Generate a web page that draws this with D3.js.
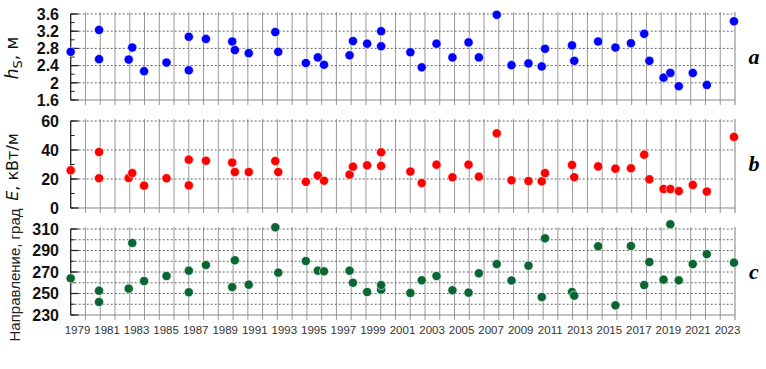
<!DOCTYPE html>
<html><head><meta charset="utf-8">
<script src="https://cdn.jsdelivr.net/npm/d3@7"></script>
<style>body{margin:0;background:#fff}svg{display:block}</style>
</head><body><svg id="c" width="766" height="369"></svg>
<script>
// decimal-year positions of the observations
const dates = [1979.0,1980.92,1980.92,1982.93,1983.17,1983.97,1985.49,1987.0,1987.0,1988.16,
  1989.94,1990.12,1991.06,1992.86,1993.06,1994.93,1995.74,1996.16,1997.89,1998.12,
  1999.08,2000.03,2000.03,2002.01,2002.78,2003.78,2004.86,2005.95,2006.65,2007.86,
  2008.86,2010.01,2010.91,2011.13,2012.96,2013.11,2014.73,2015.9,2016.95,2017.85,
  2018.2,2019.16,2019.62,2020.19,2021.14,2022.09,2023.93];
// significant wave height, m
const hs = [2.72,3.23,2.55,2.54,2.82,2.27,2.47,2.29,3.07,3.02,
  2.96,2.76,2.69,3.18,2.72,2.46,2.59,2.42,2.64,2.97,
  2.91,3.20,2.85,2.71,2.36,2.91,2.59,2.94,2.59,3.58,
  2.41,2.45,2.38,2.79,2.87,2.51,2.96,2.82,2.92,3.14,
  2.51,2.12,2.23,1.92,2.23,1.95,3.43];
// wave energy flux, kW/m
const energy = [26.0,38.6,20.5,20.7,24.1,15.4,20.5,15.6,33.3,32.6,
  31.3,24.8,24.8,32.4,24.8,18.1,22.3,18.8,23.0,28.5,
  29.4,38.4,29.0,25.1,17.2,29.9,21.2,29.9,21.6,51.5,
  19.1,18.6,18.4,24.1,29.7,21.2,28.7,27.1,27.4,36.8,
  19.8,13.1,13.1,11.7,15.9,11.3,49.0];
// direction, degrees
const direction = [264.1,252.6,242.1,254.5,297.0,261.6,266.3,251.1,271.2,276.5,
  256.0,280.9,258.2,311.6,269.4,280.2,271.2,270.6,271.2,260.0,
  251.4,253.6,257.9,250.5,262.3,266.3,253.0,250.8,268.8,277.4,
  262.1,275.9,246.7,301.3,251.4,248.0,293.9,239.0,294.2,257.9,
  279.3,262.9,314.4,262.3,277.4,286.7,278.7];
const yearLabels = d3.range(1979, 2024, 2);
const hsTicks = [1.6, 2, 2.4, 2.8, 3.2, 3.6];
const eTicks = [0, 20, 40, 60];
const dirTicks = [230, 250, 270, 290, 310];

const svg = d3.select("#c");
const x = d3.scaleLinear().domain([1979, 2024]).range([70.7, 735]);
const xLab = d3.scaleLinear().domain([1979.5, 2023.5]).range([77.5, 727.5]);

const panels = [
  {vals: hs, dom: [1.6, 3.6], range: [100, 14], ticks: hsTicks, minor: 0.2, grid: [2, 2.4, 2.8, 3.2, 3.6],
   color: "#0000ff", fmt: d => String(d), letter: "a", ly: 64},
  {vals: energy, dom: [0, 60], range: [208, 121], ticks: eTicks, minor: 10, grid: [20, 40, 60],
   color: "#ff0000", fmt: d => String(d), letter: "b", ly: 171},
  {vals: direction, dom: [230, 310], range: [315, 229], ticks: dirTicks, minor: 10, grid: d3.range(240, 311, 10),
   color: "#0b6633", fmt: d => String(d), letter: "c", ly: 279}
];

panels.forEach(p => {
  const y = d3.scaleLinear().domain(p.dom).range(p.range);
  const g = svg.append("g");
  const top = p.range[1], bot = p.range[0];
  g.selectAll(".vg").data(d3.range(1980, 2024)).join("line")
    .attr("x1", d => x(d)).attr("x2", d => x(d))
    .attr("y1", top - 2).attr("y2", bot + 5)
    .attr("stroke", "#999").attr("stroke-width", 1);
  g.append("line").attr("x1", x(2024)).attr("x2", x(2024)).attr("y1", top - 2).attr("y2", bot + 5)
    .attr("stroke", "#aaa").attr("stroke-width", 1.5);
  g.selectAll(".hg").data(p.grid).join("line")
    .attr("x1", x(1979)).attr("x2", x(2024))
    .attr("y1", d => y(d)).attr("y2", d => y(d))
    .attr("stroke", "#666").attr("stroke-dasharray", "2,2").attr("stroke-width", 1);
  g.append("line").attr("x1", x(1979)).attr("x2", x(2024)).attr("y1", bot).attr("y2", bot)
    .attr("stroke", "#888").attr("stroke-width", 1.2);
  g.append("line").attr("x1", x(1979)).attr("x2", x(1979)).attr("y1", top).attr("y2", bot)
    .attr("stroke", "#222").attr("stroke-width", 1.3);
  const minorTicks = d3.range(p.dom[0], p.dom[1] + 1e-9, p.minor);
  g.selectAll(".mt").data(minorTicks).join("line")
    .attr("x1", x(1979)).attr("x2", x(1979) + 4)
    .attr("y1", d => y(d)).attr("y2", d => y(d))
    .attr("stroke", "#222").attr("stroke-width", 1);
  g.selectAll(".Mt").data(p.ticks).join("line")
    .attr("x1", x(1979)).attr("x2", x(1979) + 8)
    .attr("y1", d => y(d)).attr("y2", d => y(d))
    .attr("stroke", "#222").attr("stroke-width", 1.2);
  g.selectAll(".tl").data(p.ticks).join("text")
    .attr("x", 59).attr("y", d => y(d)).attr("dy", "0.36em")
    .attr("text-anchor", "end")
    .attr("font-family", "'Liberation Sans', Arial, sans-serif")
    .attr("font-weight", "bold").attr("font-size", 16).attr("fill", "#111")
    .text(p.fmt);
  g.selectAll(".pt").data(dates.map((d, i) => [d, p.vals[i]])).join("circle")
    .attr("cx", d => x(d[0])).attr("cy", d => y(d[1])).attr("r", 4.6)
    .attr("fill", p.color).attr("stroke", "#fff").attr("stroke-width", 0.6);
  svg.append("text").attr("x", 754).attr("y", p.ly).attr("text-anchor", "middle")
    .attr("font-family", "'Liberation Serif', serif").attr("font-style", "italic")
    .attr("font-weight", "bold").attr("font-size", 22).attr("fill", "#000").text(p.letter);
});

svg.append("g").selectAll("text").data(yearLabels).join("text")
  .attr("x", d => xLab(d + 0.5)).attr("y", 334).attr("text-anchor", "middle")
  .attr("font-family", "'Liberation Sans Narrow', 'Arial Narrow', sans-serif")
  .attr("font-size", 11.5).attr("fill", "#333").text(d => d);

const t1 = svg.append("text").attr("transform", "translate(18,58) rotate(-90)")
  .attr("text-anchor", "middle").attr("font-family", "'DejaVu Sans', Verdana, sans-serif")
  .attr("font-size", 17).attr("fill", "#111");
t1.append("tspan").attr("font-style", "italic").text("h");
t1.append("tspan").attr("font-size", 13).attr("dy", 4).text("S");
t1.append("tspan").attr("dy", -4).text(", м");

const t2 = svg.append("text").attr("transform", "translate(18,167) rotate(-90)")
  .attr("text-anchor", "middle").attr("font-family", "'DejaVu Sans', Verdana, sans-serif")
  .attr("font-size", 16).attr("fill", "#111");
t2.append("tspan").attr("font-style", "italic").text("E");
t2.append("tspan").text(", кВт/м");

svg.append("text").attr("transform", "translate(20,275) rotate(-90)")
  .attr("text-anchor", "middle").attr("font-family", "'Liberation Sans', Arial, sans-serif")
  .attr("font-size", 15).attr("fill", "#222").text("Направление, град");
</script></body></html>
